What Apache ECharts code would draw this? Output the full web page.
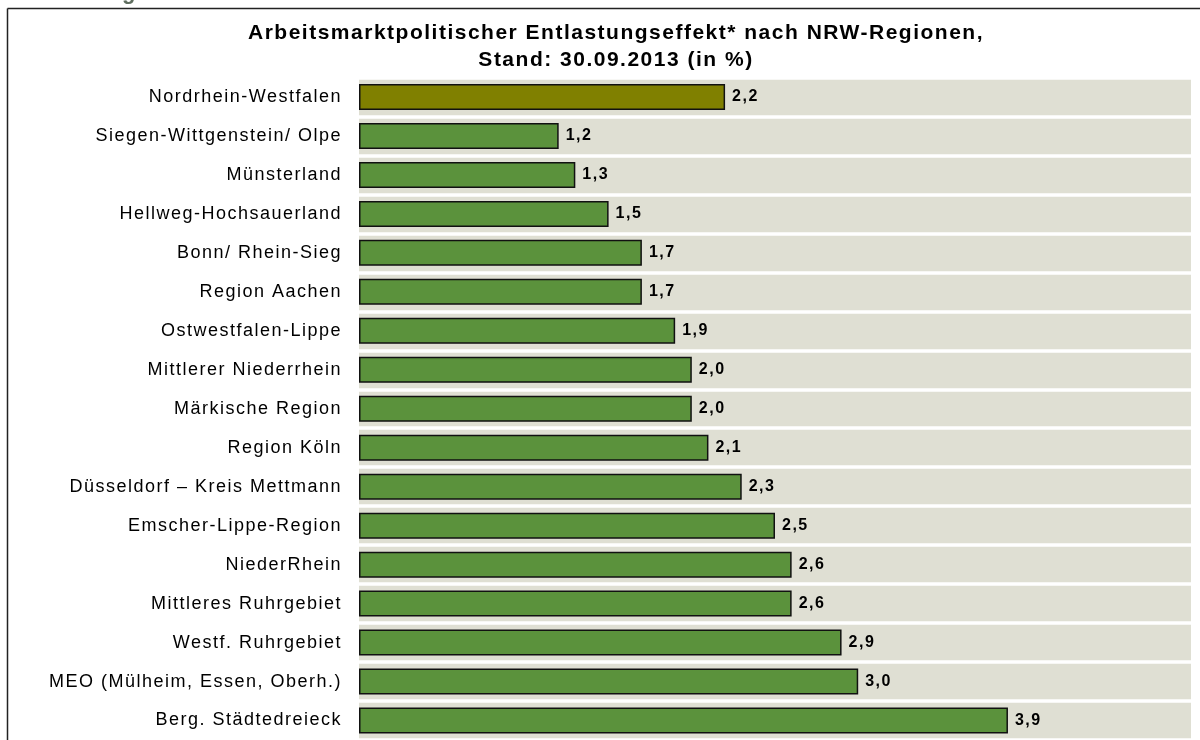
<!DOCTYPE html>
<html>
<head>
<meta charset="utf-8">
<script src="https://cdn.jsdelivr.net/npm/echarts@6/dist/echarts.min.js"></script>
<style>
html, body { margin: 0; padding: 0; background: #fff; }
#main { width: 1200px; height: 740px; }
</style>
</head>
<body>
<div id="main"></div>
<script>
// Regionen (von oben nach unten)
var regionen = [
    'Nordrhein-Westfalen',
    'Siegen-Wittgenstein/ Olpe',
    'Münsterland',
    'Hellweg-Hochsauerland',
    'Bonn/ Rhein-Sieg',
    'Region Aachen',
    'Ostwestfalen-Lippe',
    'Mittlerer Niederrhein',
    'Märkische Region',
    'Region Köln',
    'Düsseldorf – Kreis Mettmann',
    'Emscher-Lippe-Region',
    'NiederRhein',
    'Mittleres Ruhrgebiet',
    'Westf. Ruhrgebiet',
    'MEO (Mülheim, Essen, Oberh.)',
    'Berg. Städtedreieck'
];
// Entlastungseffekt in %
var werte = [2.2, 1.2, 1.3, 1.5, 1.7, 1.7, 1.9, 2.0, 2.0, 2.1, 2.3, 2.5, 2.6, 2.6, 2.9, 3.0, 3.9];
var titelText = 'Arbeitsmarktpolitischer Entlastungseffekt* nach NRW-Regionen,\nStand: 30.09.2013 (in %)';

// die Vorlage hat leicht gesperrte Schrift -> Zeichenabstand im Canvas setzen
var origGetContext = HTMLCanvasElement.prototype.getContext;
HTMLCanvasElement.prototype.getContext = function (type, attrs) {
    var ctx = origGetContext.call(this, type, attrs);
    if (ctx && type === '2d' && 'letterSpacing' in ctx) {
        ctx.letterSpacing = '1.5px';
    }
    return ctx;
};

var chartDom = document.getElementById('main');
var myChart = echarts.init(chartDom);

var barData = werte.map(function (v, i) {
    return {
        value: v,
        itemStyle: { color: i === 0 ? '#808000' : '#5b923c' }
    };
});

var option = {
    backgroundColor: '#fff',
    animation: false,
    title: {
        text: titelText,
        left: 611,
        textAlign: 'center',
        top: 15,
        textStyle: {
            fontFamily: 'Liberation Sans, Arial, sans-serif',
            fontSize: 21,
            fontWeight: 'bold',
            color: '#000',
            lineHeight: 27
        }
    },
    graphic: [
        // Rahmen oben / links
        { type: 'line', shape: { x1: 7.5, y1: 8.5, x2: 1200, y2: 8.5 }, style: { stroke: '#222', lineWidth: 1.5 } },
        { type: 'line', shape: { x1: 7.5, y1: 8.5, x2: 7.5, y2: 740 }, style: { stroke: '#222', lineWidth: 1.5 } },
        // abgeschnittene Überschrift
        { type: 'text', left: 122, top: -19, style: { text: 'g', fill: '#5f6e5f', font: 'bold 22px Liberation Sans, Arial' } }
    ],
    grid: {
        left: 359,
        right: 9,
        top: 77.5,
        bottom: -1.5,
        containLabel: false
    },
    xAxis: {
        type: 'value',
        min: 0,
        max: 5,
        show: false
    },
    yAxis: {
        type: 'category',
        data: regionen,
        inverse: true,
        axisLine: { show: false },
        axisTick: { show: false },
        axisLabel: {
            margin: 17,
            fontFamily: 'Liberation Sans, Arial, sans-serif',
            fontSize: 18,
            color: '#000'
        },
        splitArea: {
            show: true,
            areaStyle: { color: ['#dfdfd3', '#dfdfd3'] }
        },
        splitLine: {
            show: true,
            lineStyle: { color: '#fff', width: 3.5 }
        }
    },
    series: [{
        type: 'bar',
        data: barData,
        barWidth: 26,
        itemStyle: {
            borderColor: '#111',
            borderWidth: 1.5
        },
        label: {
            show: true,
            position: 'right',
            distance: 7,
            fontFamily: 'Liberation Sans, Arial, sans-serif',
            fontSize: 16,
            fontWeight: 'bold',
            color: '#000',
            formatter: function (p) {
                return p.value.toFixed(1).replace('.', ',');
            }
        }
    }]
};

myChart.setOption(option);
</script>
</body>
</html>
